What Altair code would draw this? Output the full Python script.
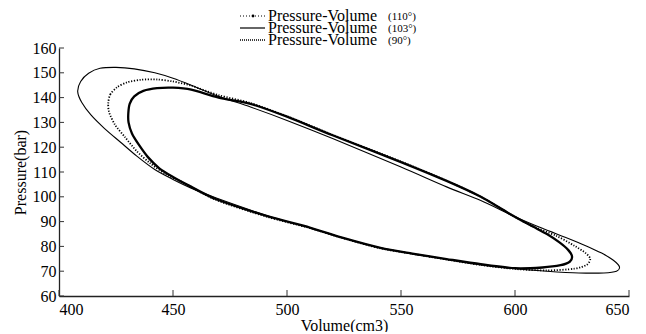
import altair as alt
import pandas as pd

x_ticks = [400, 450, 500, 550, 600, 650]
y_ticks = [60, 70, 80, 90, 100, 110, 120, 130, 140, 150, 160]

legend_names = ["Pressure-Volume", "Pressure-Volume", "Pressure-Volume"]
legend_angles = ["(110\u00b0)", "(103\u00b0)", "(90\u00b0)"]

# 103 deg: outer thin solid loop
outer_x = [408.2, 409.5, 413, 418, 425, 433, 442, 450, 458, 470, 484, 500, 520, 550, 570, 585, 600, 612, 622, 631, 638, 643, 645.8, 644.5, 639, 628, 614, 600, 585, 570, 555, 541, 525, 510, 491, 469, 458, 450, 442, 434, 427, 420, 414, 410]
outer_y = [142.4, 146.5, 149.8, 151.8, 152.2, 151.6, 150, 147.8, 145, 140.5, 136.2, 130.8, 123.5, 112, 104, 98.5, 92, 87.3, 83.7, 80.3, 77.3, 74.5, 71.8, 70, 69.3, 69.3, 70, 71, 72.6, 74.8, 77, 79.4, 83.3, 87.5, 92.5, 99.5, 103.5, 107, 111, 116.5, 122, 127.5, 133, 138]

# 110 deg: middle dotted loop
mid_x = [421.6, 422.5, 425.5, 430, 436, 443, 450, 458, 470, 484, 500, 520, 550, 570, 585, 597, 606.6, 618, 626, 631, 633, 631.5, 626, 614, 600, 585, 570, 555, 541, 525, 510, 491, 469, 455, 447, 440, 434, 429, 424.6, 422]
mid_y = [137.7, 141.3, 144.2, 146.2, 147.2, 147.3, 146.5, 144.8, 141, 137.8, 132.5, 125, 114.2, 106.5, 100, 93.5, 88.6, 84.3, 80.3, 77.3, 75, 72.6, 71, 70.3, 70.9, 72.5, 74.7, 77, 79.2, 83.2, 87.4, 92, 98.7, 105.5, 109, 113.5, 118.5, 124, 129, 134]

# 90 deg: inner thick loop
inner_x = [430.4, 431, 433, 437, 443, 450, 458, 470, 484, 500, 520, 550, 570, 585, 597, 606.6, 614, 619.5, 623.3, 625, 624, 620, 612, 600, 585, 570, 555, 541, 525, 510, 491, 469, 457, 450, 444, 439, 435, 432, 430.5]
inner_y = [133.7, 137.5, 140.5, 142.7, 143.8, 144, 143.2, 140, 137.5, 132.3, 124.8, 114, 106.4, 100, 93.5, 88.6, 85, 81.6, 78.6, 76, 73.8, 72.4, 71.5, 71.2, 72.8, 74.9, 77.1, 79.4, 83.3, 87.6, 92.3, 99, 104.5, 108, 111.5, 116, 121, 125.5, 130]


def loop_df(xs, ys):
    return pd.DataFrame({"volume": xs, "pressure": ys, "order": list(range(len(xs)))})


FONT = "Liberation Serif, Times New Roman, serif"
W, H = 570, 248

xscale = alt.Scale(domain=[400, 650], nice=False, zero=False)
yscale = alt.Scale(domain=[60, 160], nice=False, zero=False)

xaxis = alt.Axis(values=x_ticks, title="Volume(cm3)", labelPadding=5, titlePadding=0, labelOverlap=False)
yaxis = alt.Axis(values=y_ticks, title="Pressure(bar)", labelPadding=3, titlePadding=4, labelOverlap=False)
xenc = alt.X("volume:Q", scale=xscale, axis=xaxis)
yenc = alt.Y("pressure:Q", scale=yscale, axis=yaxis)


def loop_layer(df, width, dash=None):
    kw = dict(interpolate="cardinal-closed", tension=0.2, color="black", strokeWidth=width, clip=False)
    if dash:
        kw["strokeDash"] = dash
    return alt.Chart(df).mark_line(**kw).encode(x=xenc, y=yenc, order="order:Q")


layers = [
    loop_layer(loop_df(outer_x, outer_y), 1.1),
    loop_layer(loop_df(inner_x, inner_y), 2.3),
    loop_layer(loop_df(mid_x, mid_y), 1.8, [1.2, 1.6]),
]

# inward ticks
ytick_df = pd.DataFrame({"pressure": y_ticks})
xtick_df = pd.DataFrame({"volume": x_ticks})
layers.append(alt.Chart(ytick_df).mark_rule(color="#333", strokeWidth=1).encode(
    y=yenc, x=alt.value(0), x2=alt.value(5)))
layers.append(alt.Chart(xtick_df).mark_rule(color="#333", strokeWidth=1).encode(
    x=xenc, y=alt.value(H), y2=alt.value(H - 6)))

# manual legend
dummy = pd.DataFrame({"a": [0]})
styles = [
    dict(strokeDash=[1, 2], strokeWidth=1.2),
    dict(strokeWidth=1.2),
    dict(strokeDash=[1, 1], strokeWidth=1.5),
]
row_y = [-32, -20, -8]
for i in range(3):
    layers.append(alt.Chart(dummy).mark_rule(color="black", **styles[i]).encode(
        x=alt.value(181), x2=alt.value(206), y=alt.value(row_y[i])))
    layers.append(alt.Chart(dummy).mark_text(
        text=legend_names[i], font=FONT, fontSize=16, align="left", baseline="middle", color="black"
    ).encode(x=alt.value(209), y=alt.value(row_y[i])))
    layers.append(alt.Chart(dummy).mark_text(
        text=legend_angles[i], font=FONT, fontSize=11, align="left", baseline="middle", color="black"
    ).encode(x=alt.value(329), y=alt.value(row_y[i] + 1)))
layers.append(alt.Chart(dummy).mark_circle(color="black", size=8, opacity=1).encode(
    x=alt.value(194), y=alt.value(row_y[0])))

chart = alt.layer(*layers).properties(
    width=W, height=H,
    autosize=alt.AutoSizeParams(type="none"),
    padding={"left": 51, "top": 40, "right": 9, "bottom": 36},
).configure_view(stroke=None).configure_axis(
    grid=False, tickSize=0, domainColor="#222", domainWidth=1.3,
    labelFont=FONT, labelFontSize=16, labelColor="black",
    titleFont=FONT, titleFontSize=16, titleFontWeight="normal", titleColor="black",
)

chart.save("out.html", embed_options={"renderer": "svg", "actions": False})
